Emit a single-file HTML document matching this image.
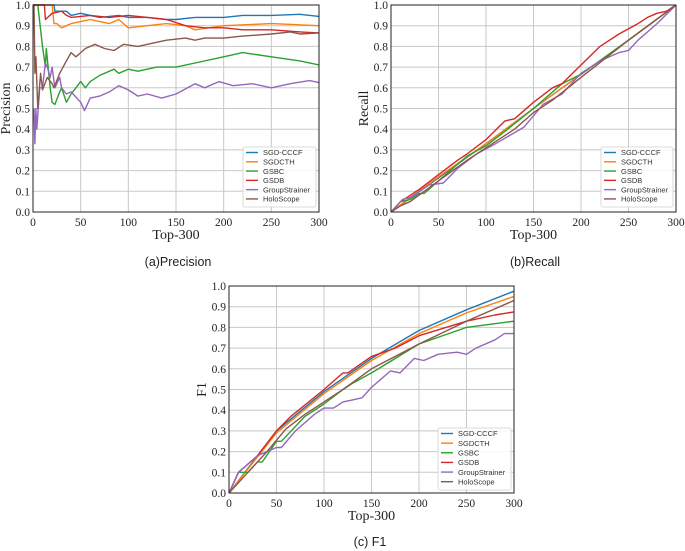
<!DOCTYPE html>
<html><head><meta charset="utf-8"><style>
html,body{margin:0;padding:0;background:#fff;}
svg{display:block;}
.tick{font-family:"Liberation Serif",serif;font-size:11.5px;fill:#222;}
.atitle{font-family:"Liberation Serif",serif;font-size:14px;fill:#222;}
.leg{font-family:"Liberation Sans",sans-serif;font-size:7.5px;fill:#333;}
.cap{font-family:"Liberation Sans",sans-serif;font-size:12.5px;fill:#222;}
</style></head>
<body>
<svg id="c" width="685" height="551" viewBox="0 0 685 551" xmlns="http://www.w3.org/2000/svg">
<text class="cap" x="178" y="266" text-anchor="middle">(a)Precision</text>
<text class="cap" x="535" y="266" text-anchor="middle">(b)Recall</text>
<text class="cap" x="370" y="546" text-anchor="middle">(c) F1</text>
</svg>
<script>
const seriesNames = ["SGD-CCCF","SGDCTH","GSBC","GSDB","GroupStrainer","HoloScope"];
const xTicks = [0,50,100,150,200,250,300];
const yTicks = [0,0.1,0.2,0.3,0.4,0.5,0.6,0.7,0.8,0.9,1.0];

// Precision
const pSgdX = [0,22,23,35,40,50,60,70,90,100,120,140,150,170,200,220,250,280,300];
const pSgdY = [1,1,0.97,0.97,0.95,0.96,0.95,0.94,0.95,0.94,0.94,0.93,0.93,0.94,0.94,0.95,0.95,0.955,0.945];
const pCthX = [0,20,22,25,30,40,50,60,70,80,90,100,120,140,160,170,200,250,300];
const pCthY = [1,1,0.91,0.91,0.89,0.91,0.92,0.93,0.92,0.91,0.93,0.89,0.9,0.91,0.9,0.88,0.9,0.91,0.9];
const pGsbcX = [0,5,8,10,13,14,18,20,23,28,30,35,40,45,50,55,60,70,85,90,100,110,130,150,170,200,220,250,280,300];
const pGsbcY = [1,1,0.88,0.8,0.7,0.79,0.6,0.53,0.52,0.58,0.6,0.53,0.57,0.6,0.63,0.6,0.63,0.66,0.69,0.67,0.69,0.68,0.7,0.7,0.72,0.75,0.77,0.75,0.73,0.71];
const pGsdbX = [0,12,13,20,30,35,40,60,80,100,120,140,160,180,200,220,250,280,300];
const pGsdbY = [1,1,0.93,0.96,0.97,0.95,0.94,0.95,0.94,0.95,0.94,0.93,0.9,0.89,0.89,0.88,0.88,0.87,0.865];
const pGsX = [1,2,3,4,7,10,13,15,18,20,23,28,30,35,40,50,54,60,70,80,90,100,110,120,135,150,170,180,195,210,230,250,270,290,300];
const pGsY = [0.5,0.33,0.5,0.4,0.6,0.6,0.72,0.7,0.65,0.7,0.6,0.65,0.6,0.57,0.58,0.53,0.49,0.55,0.56,0.58,0.61,0.59,0.56,0.57,0.55,0.57,0.62,0.6,0.63,0.61,0.62,0.6,0.62,0.635,0.625];
const pHoloX = [0,1,2,3,5,8,10,15,20,22,28,35,40,45,50,55,65,75,85,95,110,120,140,160,170,180,200,220,250,270,280,300];
const pHoloY = [1,1,0.67,0.75,0.5,0.67,0.59,0.65,0.62,0.6,0.67,0.73,0.77,0.75,0.77,0.79,0.81,0.79,0.78,0.81,0.8,0.81,0.83,0.84,0.83,0.84,0.84,0.85,0.86,0.87,0.86,0.865];

// Recall
const rSgdX = [0,100,150,200,250,300];
const rSgdY = [0,0.33,0.5,0.665,0.83,1];
const rCthX = [0,50,100,150,200,250,300];
const rCthY = [0,0.17,0.33,0.5,0.665,0.83,1];
const rGsbcX = [0,10,20,30,35,50,80,100,120,150,180,200,250,300];
const rGsbcY = [0,0.05,0.06,0.09,0.09,0.15,0.27,0.32,0.39,0.5,0.62,0.665,0.83,1];
const rGsdbX = [0,10,30,50,70,80,100,120,130,150,170,180,200,220,240,260,270,280,290,300];
const rGsdbY = [0,0.05,0.11,0.18,0.25,0.28,0.35,0.44,0.45,0.53,0.6,0.62,0.71,0.8,0.86,0.91,0.94,0.96,0.97,1];
const rGsX = [0,12,20,40,55,70,90,110,125,140,160,180,200,220,240,250,260,280,300];
const rGsY = [0,0.06,0.07,0.13,0.14,0.21,0.28,0.33,0.37,0.41,0.52,0.57,0.67,0.73,0.77,0.78,0.83,0.91,1];
const rHoloX = [0,10,20,50,80,100,130,150,170,200,250,300];
const rHoloY = [0,0.03,0.05,0.15,0.25,0.31,0.4,0.48,0.54,0.65,0.83,1];

// F1
const fSgdX = [0,25,50,100,150,200,250,300];
const fSgdY = [0,0.15,0.3,0.49,0.65,0.785,0.885,0.975];
const fCthX = [0,50,100,150,200,250,300];
const fCthY = [0,0.29,0.48,0.64,0.77,0.87,0.95];
const fGsbcX = [0,10,20,30,35,50,55,80,100,120,130,150,200,250,300];
const fGsbcY = [0,0.1,0.1,0.15,0.15,0.25,0.25,0.37,0.43,0.5,0.53,0.58,0.72,0.8,0.83];
const fGsdbX = [0,10,30,50,65,100,120,125,150,175,200,250,280,300];
const fGsdbY = [0,0.1,0.18,0.3,0.37,0.5,0.58,0.58,0.66,0.7,0.76,0.83,0.86,0.875];
const fGsX = [0,10,30,50,55,70,90,100,110,120,130,140,150,170,180,195,205,220,240,250,260,280,290,300];
const fGsY = [0,0.1,0.18,0.22,0.22,0.3,0.38,0.41,0.41,0.44,0.45,0.46,0.51,0.59,0.58,0.65,0.64,0.67,0.68,0.67,0.7,0.74,0.77,0.77];
const fHoloX = [0,20,40,60,80,100,120,150,200,250,270,300];
const fHoloY = [0,0.1,0.2,0.31,0.38,0.44,0.5,0.6,0.72,0.83,0.87,0.93];

const colors = ["#1f77b4","#ff7f0e","#2ca02c","#d62728","#9467bd","#8c564b"];
const NS = "http://www.w3.org/2000/svg";
const svg = document.getElementById("c");
function mk(tag, attrs, parent){ const e=document.createElementNS(NS,tag); for(const k in attrs) e.setAttribute(k,attrs[k]); (parent||svg).appendChild(e); return e; }

function panel(id, box, ytitle, series, leg){
  const g = mk("g",{});
  
  
  const sx = v => box.x0 + (v/300)*(box.x1-box.x0);
  const sy = v => box.y1 - v*(box.y1-box.y0);
  xTicks.forEach(t=>{
    const l=mk("line",{x1:sx(t),x2:sx(t),y1:box.y0,y2:box.y1,stroke:"#c8c8c8","stroke-width":1},g);
    
    
    const tx=mk("text",{x:sx(t),y:box.y1+14,"text-anchor":"middle",class:"tick"},g);
    tx.textContent=t;
    
    
  });
  yTicks.forEach(t=>{
    const l=mk("line",{x1:box.x0,x2:box.x1,y1:sy(t),y2:sy(t),stroke:"#c8c8c8","stroke-width":1},g);
    
    
    const tx=mk("text",{x:box.x0-3,y:sy(t)+4,"text-anchor":"end",class:"tick"},g);
    tx.textContent=t.toFixed(1);
    
    
  });
  const clip = mk("clipPath",{id:"clip-"+id},g);
  mk("rect",{x:box.x0,y:box.y0-1,width:box.x1-box.x0,height:box.y1-box.y0+1},clip);
  series.forEach((s,i)=>{
    const d = s[0].map((x,j)=>(j?"L":"M")+sx(x).toFixed(1)+","+sy(s[1][j]).toFixed(1)).join("");
    const p=mk("path",{d:d,fill:"none",stroke:colors[i],"stroke-width":1.4,"stroke-linejoin":"round","clip-path":"url(#clip-"+id+")"},g);
    
    
  });
  const fr=mk("rect",{x:box.x0,y:box.y0,width:box.x1-box.x0,height:box.y1-box.y0,fill:"none",stroke:"#222","stroke-width":1},g);
  
  
  const xt=mk("text",{x:(box.x0+box.x1)/2,y:box.y1+27,"text-anchor":"middle",class:"atitle"},g);
  xt.textContent="Top-300";
  
  
  const yx = box.x0-23, yy=(box.y0+box.y1)/2;
  const yt=mk("text",{x:yx,y:yy,"text-anchor":"middle",class:"atitle",transform:"rotate(-90 "+yx+" "+yy+")"},g);
  yt.textContent=ytitle;
  
  
  const lg=mk("g",{},g);
  
  
  mk("rect",{x:leg.x,y:leg.y,width:leg.w,height:leg.h,rx:2,fill:"#fff","fill-opacity":0.85,stroke:"#d0d0d0","stroke-width":0.8},lg);
  seriesNames.forEach((n,i)=>{
    const cy = leg.y+5+i*(leg.h-8)/5.6+0.5;
    mk("line",{x1:leg.x+3,x2:leg.x+15,y1:cy,y2:cy,stroke:colors[i],"stroke-width":1.4},lg);
    const t=mk("text",{x:leg.x+20,y:cy+2.7,class:"leg"},lg);
    t.textContent=n;
    
    
  });
}

panel("precision",{x0:33,x1:319,y0:5,y1:212},"Precision",
  [[pSgdX,pSgdY],[pCthX,pCthY],[pGsbcX,pGsbcY],[pGsdbX,pGsdbY],[pGsX,pGsY],[pHoloX,pHoloY]],
  {x:243,y:147,w:73,h:60});
panel("recall",{x0:391,x1:676,y0:5,y1:212},"Recall",
  [[rSgdX,rSgdY],[rCthX,rCthY],[rGsbcX,rGsbcY],[rGsdbX,rGsdbY],[rGsX,rGsY],[rHoloX,rHoloY]],
  {x:601,y:147,w:72,h:60});
panel("f1",{x0:229,x1:514,y0:286,y1:493},"F1",
  [[fSgdX,fSgdY],[fCthX,fCthY],[fGsbcX,fGsbcY],[fGsdbX,fGsdbY],[fGsX,fGsY],[fHoloX,fHoloY]],
  {x:438,y:428,w:73,h:62});
</script>
</body></html>
